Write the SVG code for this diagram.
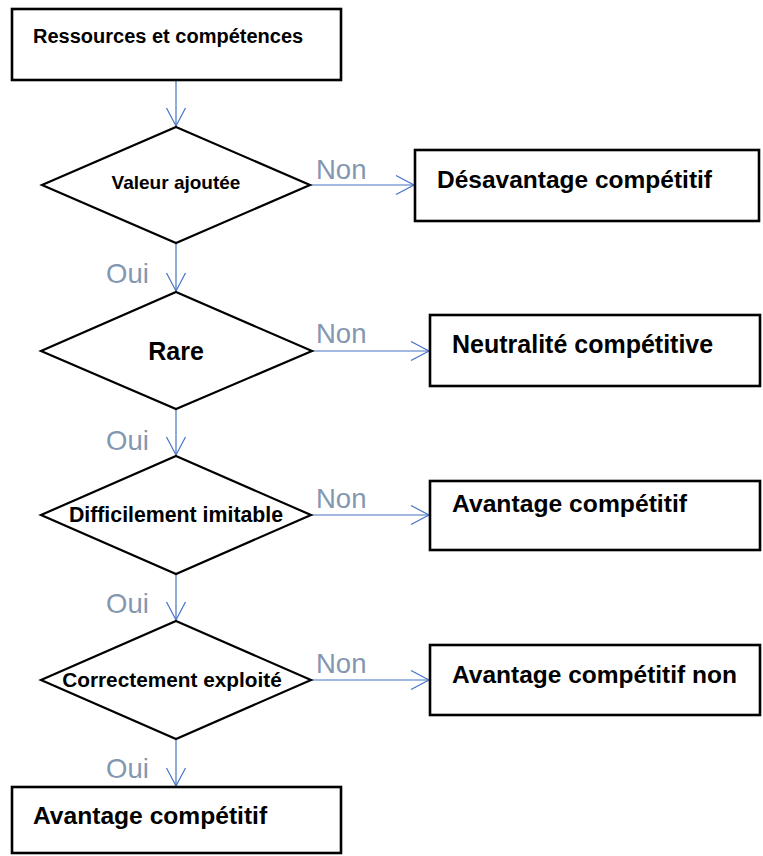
<svg xmlns="http://www.w3.org/2000/svg" width="763" height="856" viewBox="0 0 763 856">
  <style>
    .box { fill: #ffffff; stroke: #000000; stroke-width: 2.6; }
    .dia { fill: #ffffff; stroke: #000000; stroke-width: 2.2; stroke-linejoin: miter; }
    .t { font-family: "Liberation Sans", Arial, sans-serif; font-weight: bold; fill: #000000; }
    .lbl { font-family: "Liberation Sans", Arial, sans-serif; font-size: 27.5px; fill: #8497B0; }
    .edge { fill: none; stroke: #4472C4; stroke-width: 1.2; }
  </style>
  <defs>
    <marker id="open" markerUnits="userSpaceOnUse" markerWidth="22" markerHeight="22" viewBox="-19 -11 22 22" refX="0" refY="0" orient="auto">
      <path d="M -18 -9.5 L 0 0 L -18 9.5" fill="none" stroke="#4472C4" stroke-width="1.2"/>
    </marker>
  </defs>

  <rect width="763" height="856" fill="#ffffff"/>

  <!-- connectors -->
  <g id="connectors">
    <path class="edge" d="M176 80 V126" marker-end="url(#open)"/>
    <path class="edge" d="M176 243 V291" marker-end="url(#open)"/>
    <path class="edge" d="M176 409 V455" marker-end="url(#open)"/>
    <path class="edge" d="M176 574 V620" marker-end="url(#open)"/>
    <path class="edge" d="M176 739 V786" marker-end="url(#open)"/>
    <path class="edge" d="M310 185 H414" marker-end="url(#open)"/>
    <path class="edge" d="M312 351 H429" marker-end="url(#open)"/>
    <path class="edge" d="M311 515 H429" marker-end="url(#open)"/>
    <path class="edge" d="M311 680 H429" marker-end="url(#open)"/>
    <text class="lbl" x="316" y="179">Non</text>
    <text class="lbl" x="316" y="343">Non</text>
    <text class="lbl" x="316" y="508">Non</text>
    <text class="lbl" x="316" y="673">Non</text>
    <text class="lbl" x="106" y="283">Oui</text>
    <text class="lbl" x="106" y="450">Oui</text>
    <text class="lbl" x="106" y="613">Oui</text>
    <text class="lbl" x="106" y="778">Oui</text>
  </g>

  <!-- start -->
  <g id="ressources">
    <rect class="box" x="12" y="9" width="329" height="71"/>
    <text class="t" x="33" y="43" font-size="20">Ressources et compétences</text>
  </g>

  <!-- decisions -->
  <g id="valeur">
    <polygon class="dia" points="176,127 310,185 176,243 42,185"/>
    <text class="t" x="176" y="189" font-size="19" text-anchor="middle">Valeur ajoutée</text>
  </g>
  <g id="rare">
    <polygon class="dia" points="176,292 312,351 176,409 41,351"/>
    <text class="t" x="176" y="360" font-size="25" text-anchor="middle">Rare</text>
  </g>
  <g id="imitable">
    <polygon class="dia" points="176,456 311,515 176,574 41,515"/>
    <text class="t" x="176" y="522" font-size="21.3" text-anchor="middle">Difficilement imitable</text>
  </g>
  <g id="exploite">
    <polygon class="dia" points="176,621 311,680 176,739 41,680"/>
    <text class="t" x="172" y="687" font-size="20.8" text-anchor="middle">Correctement exploité</text>
  </g>

  <!-- outcomes -->
  <g id="desavantage">
    <rect class="box" x="415" y="150" width="344" height="71"/>
    <text class="t" x="437" y="188" font-size="24.5">Désavantage compétitif</text>
  </g>
  <g id="neutralite">
    <rect class="box" x="430" y="315" width="330" height="71"/>
    <text class="t" x="452" y="353" font-size="25">Neutralité compétitive</text>
  </g>
  <g id="avantage">
    <rect class="box" x="430" y="481" width="330" height="69"/>
    <text class="t" x="452" y="512" font-size="24.7">Avantage compétitif</text>
  </g>
  <g id="avantage-non">
    <rect class="box" x="430" y="645" width="330" height="70"/>
    <text class="t" x="452" y="683" font-size="24.5">Avantage compétitif non</text>
  </g>
  <g id="avantage-final">
    <rect class="box" x="12" y="787" width="329" height="66"/>
    <text class="t" x="33" y="824" font-size="24.6">Avantage compétitif</text>
  </g>
</svg>
